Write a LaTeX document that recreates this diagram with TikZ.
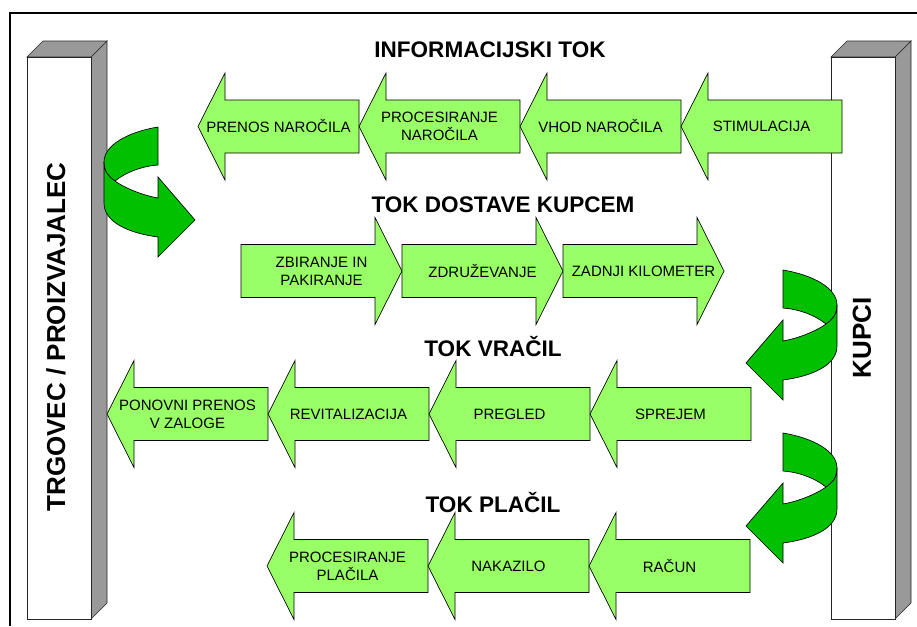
\documentclass[tikz,border=0pt]{standalone}
\usepackage{fontspec}
\setmainfont{Liberation Sans}
\definecolor{arrowgreen}{RGB}{153,255,102}
\definecolor{turngreen}{RGB}{0,192,0}
\definecolor{pillargray}{RGB}{153,153,153}

% left-pointing flow arrow: name, tip x, centre y, text
\newcommand\flowleft[4]{%
  \draw[flowarrow] (#2,#3) -- ++(27,-53.5) -- ++(0,27) -- ++(134,0) -- ++(0,53)
    -- ++(-134,0) -- ++(0,27) -- cycle;
  \node[boxtext] (#1) at (#2+80.5,#3) {#4};}
% right-pointing flow arrow: name, tail x, centre y, text
\newcommand\flowright[4]{%
  \draw[flowarrow] (#2,#3-26.5) -- ++(134,0) -- ++(0,-27) -- ++(27,53.5)
    -- ++(-27,53.5) -- ++(0,-27) -- ++(-134,0) -- cycle;
  \node[boxtext] (#1) at (#2+80.5,#3) {#4};}

\tikzset{
  turnarrow/.pic={
    % back part of the ribbon
    \path[turnband] (0,0) .. controls (-30,5) and (-54,18) .. (-54,35)
      .. controls (-54,45) and (-49,50) .. (-43,54)
      .. controls (-32,45) and (-15,39) .. (0,38) -- cycle;
    % front part of the ribbon with its head
    \path[turnband] (-54,35) .. controls (-54,45) and (-49,50) .. (-43,54)
      .. controls (-35,60) and (-17,68) .. (0,71) -- (0,50) -- (37,93) -- (0,130) -- (0,110)
      .. controls (-30,106) and (-54,95) .. (-54,76) -- cycle;
  }
}

\begin{document}
\begin{tikzpicture}[x=0.75pt,y=-0.75pt,
  flowarrow/.style={fill=arrowgreen, draw=black, line width=0.5pt, line join=miter},
  boxtext/.style={font=\fontsize{11.25}{13.5}\selectfont, align=center, inner sep=0pt},
  flowtitle/.style={font=\fontsize{16.9}{20}\selectfont\bfseries, inner sep=0pt},
  pillarlabel/.style={font=\fontsize{19.5}{22}\selectfont\bfseries, rotate=90, inner sep=0pt},
  pillarfront/.style={fill=white, draw=black!85, line width=0.5pt},
  pillarside/.style={fill=pillargray, draw=black!85, line width=0.5pt},
  turnband/.style={fill=turngreen, draw=black, line width=0.5pt, line join=miter},
  frameline/.style={draw=black, line width=1.5pt},
]
\useasboundingbox (0,0) rectangle (917,626);

% outer frame (open to the right and bottom)
\draw[frameline] (10,626) -- (10,13) -- (917,13);

% left pillar
\path[pillarside] (91,57) -- (107,41) -- (107,603) -- (91,619) -- cycle;
\path[pillarside] (27,57) -- (43,41) -- (107,41) -- (91,57) -- cycle;
\path[pillarfront] (27,57) rectangle (91,619);
\node[pillarlabel] (trgovec) at (56,337) {TRGOVEC / PROIZVAJALEC};

% right pillar
\path[pillarside] (895,57) -- (911,41) -- (911,603) -- (895,619) -- cycle;
\path[pillarside] (831,57) -- (847,41) -- (911,41) -- (895,57) -- cycle;
\path[pillarfront] (831,57) rectangle (895,619);
\node[pillarlabel] (kupci) at (862,338) {KUPCI};

% information flow
\node[flowtitle] (tinfo) at (490,50) {INFORMACIJSKI TOK};
\flowleft{prenos}{198}{126.5}{PRENOS NAROČILA}
\flowleft{procnar}{359}{126.5}{PROCESIRANJE\\NAROČILA}
\flowleft{vhod}{520}{126.5}{VHOD NAROČILA}
\flowleft{stim}{681}{126.5}{STIMULACIJA}

% delivery flow
\node[flowtitle] (tdost) at (503,205) {TOK DOSTAVE KUPCEM};
\flowright{zbir}{241}{271}{ZBIRANJE IN\\PAKIRANJE}
\flowright{zdruz}{402}{271}{ZDRUŽEVANJE}
\flowright{zadnji}{563}{271}{ZADNJI KILOMETER}

% returns flow
\node[flowtitle] (tvracil) at (493,347) {TOK VRAČIL};
\flowleft{ponovni}{107}{414}{PONOVNI PRENOS\\V ZALOGE}
\flowleft{revit}{268}{414}{REVITALIZACIJA}
\flowleft{pregled}{429}{414}{PREGLED}
\flowleft{sprejem}{590}{414}{SPREJEM}

% payment flow
\node[flowtitle] (tplacil) at (493,503) {TOK PLAČIL};
\flowleft{procplac}{267}{566}{PROCESIRANJE\\PLAČILA}
\flowleft{nakazilo}{428}{566}{NAKAZILO}
\flowleft{racun}{589}{566}{RAČUN}

% turning arrows between the pillars and the flows
\pic (turnleft) at (158,127) {turnarrow};
\pic[xscale=-1] (turnright) at (783,270) {turnarrow};
\pic[xscale=-1] (turnpay) at (783,433) {turnarrow};
\end{tikzpicture}
\end{document}
